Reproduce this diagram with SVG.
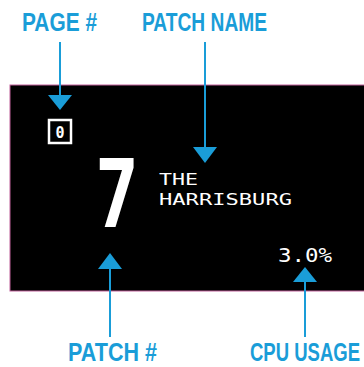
<svg xmlns="http://www.w3.org/2000/svg" width="364" height="367" viewBox="0 0 364 367">
  <style>
    .label { font-family: "Liberation Sans", Arial, sans-serif; font-weight: bold; font-size: 19px; fill: #1a9dd8; }
    .screen-text { font-family: "DejaVu Sans Mono", "Liberation Mono", monospace; fill: #ffffff; }
    .lead { stroke: #1a9dd8; stroke-width: 2; fill: none; }
    .head { fill: #1a9dd8; }
  </style>

  <rect width="364" height="367" fill="#ffffff"/>

  <!-- OLED screen -->
  <g id="screen">
    <rect x="10" y="85" width="364" height="206" fill="#000000" stroke="#c0609a" stroke-width="1"/>
  </g>

  <g id="page-number">
    <rect x="49" y="120" width="22" height="23" fill="none" stroke="#ffffff" stroke-width="2.5"/>
    <text class="screen-text" x="60" y="137.5" font-size="15" font-weight="bold" text-anchor="middle">0</text>
  </g>

  <g id="patch-number">
    <text class="screen-text" x="95" y="227" font-size="94" font-weight="bold" textLength="44" lengthAdjust="spacingAndGlyphs">7</text>
  </g>

  <g id="patch-name">
    <text class="screen-text" x="159" y="185" font-size="16.5" textLength="39" lengthAdjust="spacingAndGlyphs">THE</text>
    <text class="screen-text" x="159" y="204.5" font-size="16.5" textLength="133" lengthAdjust="spacingAndGlyphs">HARRISBURG</text>
  </g>

  <g id="cpu-usage">
    <text class="screen-text" x="278" y="262" font-size="20" textLength="54" lengthAdjust="spacingAndGlyphs">3.0%</text>
  </g>

  <!-- callout labels (tall, condensed lettering) -->
  <g id="label-page" transform="translate(22,31) scale(1,1.32)">
    <text class="label" x="0" y="0" textLength="75" lengthAdjust="spacingAndGlyphs">PAGE #</text>
  </g>
  <g id="label-patch-name" transform="translate(142,31) scale(1,1.32)">
    <text class="label" x="0" y="0" textLength="125" lengthAdjust="spacingAndGlyphs">PATCH NAME</text>
  </g>
  <g id="label-patch-number" transform="translate(68,360.5) scale(1,1.32)">
    <text class="label" x="0" y="0" textLength="89" lengthAdjust="spacingAndGlyphs">PATCH #</text>
  </g>
  <g id="label-cpu" transform="translate(250,360.5) scale(1,1.32)">
    <text class="label" x="0" y="0" textLength="110" lengthAdjust="spacingAndGlyphs">CPU USAGE</text>
  </g>

  <!-- leader arrows -->
  <g id="connectors">
    <line class="lead" x1="60" y1="42" x2="60" y2="96"/>
    <polygon class="head" points="48,95 72,95 60,110"/>

    <line class="lead" x1="205" y1="42" x2="205" y2="148"/>
    <polygon class="head" points="193,147 217,147 205,163"/>

    <line class="lead" x1="110" y1="268" x2="110" y2="337"/>
    <polygon class="head" points="98,269 122,269 110,253"/>

    <line class="lead" x1="305" y1="281" x2="305" y2="337"/>
    <polygon class="head" points="293,282 317,282 305,267"/>
  </g>
</svg>
